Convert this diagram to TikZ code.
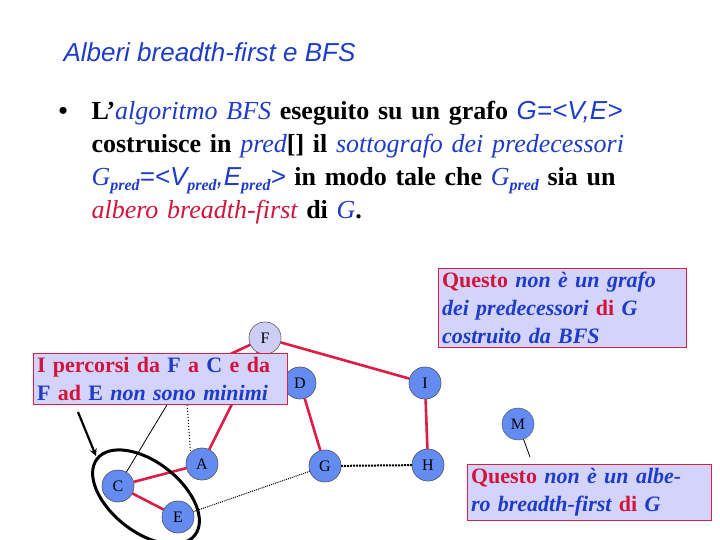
\documentclass[tikz,border=0pt]{standalone}
\usepackage{fontspec}
\setmainfont{Liberation Serif}
\setsansfont{Liberation Sans}
\begin{document}
\begin{tikzpicture}[x=1pt,y=-1pt,
  vx/.style={circle,draw=black!70,fill={rgb,255:red,100;green,140;blue,240},minimum size=32pt,inner sep=0pt,font=\fontsize{16}{16}\selectfont},
  redge/.style={draw={rgb,255:red,220;green,30;blue,70},line width=2.6pt},
  box/.style={draw={rgb,255:red,220;green,30;blue,70},fill={rgb,255:red,212;green,212;blue,250},line width=0.8pt,inner sep=4pt,align=left,font=\bfseries\fontsize{22}{28}\selectfont}]
\definecolor{tb}{RGB}{30,60,200}
\definecolor{tr}{RGB}{210,20,60}
\useasboundingbox (0,0) rectangle (720,540);
\fill[white] (0,0) rectangle (720,540);
\node[anchor=west,font=\sffamily\itshape\fontsize{26}{26}\selectfont,text=tb] (title) at (60,52) {Alberi breadth-first e BFS};
\node[anchor=north west,text width=660pt,align=left,font=\bfseries\fontsize{26}{33}\selectfont] (bul) at (55,98)
{\makebox[33pt][l]{\textbullet}L’\textcolor{tb}{\itshape\mdseries algoritmo BFS} eseguito su un grafo \textcolor{tb}{\sffamily\itshape\mdseries G=<V,E>}\\
\hspace*{33pt}costruisce in \textcolor{tb}{\itshape\mdseries pred}[] il \textcolor{tb}{\itshape\mdseries sottografo dei predecessori}\\
\hspace*{33pt}\textcolor{tb}{\itshape\mdseries G\raisebox{-5pt}{\fontsize{16}{16}\selectfont\bfseries pred}\sffamily=<V\raisebox{-5pt}{\fontsize{16}{16}\selectfont\rmfamily\bfseries pred},E\raisebox{-5pt}{\fontsize{16}{16}\selectfont\rmfamily\bfseries pred}>} in modo tale che \textcolor{tb}{\itshape\mdseries G\raisebox{-5pt}{\fontsize{16}{16}\selectfont\bfseries pred}} sia un\\
\hspace*{33pt}\textcolor{tr}{\itshape\mdseries albero breadth-first} di \textcolor{tb}{\itshape\mdseries G}.};
\coordinate (B) at (185,375);
\node[vx,fill={rgb,255:red,205;green,205;blue,245}] (F) at (265,338) {F};
\node[vx] (D) at (300,383) {D};
\node[vx] (I) at (425,383) {I};
\node[vx] (M) at (518,424) {M};
\node[vx] (A) at (202,464) {A};
\node[vx] (G) at (325,466) {G};
\node[vx] (H) at (428,465) {H};
\node[vx] (C) at (118,486) {C};
\node[vx] (E) at (178,517) {E};
\path[redge] (F) -- (I) (I) -- (H) (D) -- (G) (C) -- (A) (C) -- (E) (F) -- (A) (F) -- (B);
\draw[black,line width=1pt,dotted] (B) -- (A.north west);
\draw[black,line width=0.8pt] (B) -- (C);
\draw[black,line width=1pt,densely dotted] (G) -- (E);
\draw[black,line width=2pt,densely dotted] (G) -- (H);
\node[vx,fill={rgb,255:red,205;green,205;blue,245}] at (F) {F};
\node[vx] at (A) {A}; \node[vx] at (C) {C}; \node[vx] at (E) {E};
\node[vx] at (G) {G}; \node[vx] at (H) {H}; \node[vx] at (I) {I}; \node[vx] at (D) {D};
\draw[line width=3pt] (146,497) ellipse[x radius=62pt,y radius=35pt,rotate=-38];
\coordinate (ell) at (96,456);
\node[box,text width=246pt] (b1) at (160,379) {\textcolor{tr}{I percorsi da} \textcolor{tb}{F} \textcolor{tr}{a} \textcolor{tb}{C} \textcolor{tr}{e da}\\ \textcolor{tb}{F} \textcolor{tr}{ad} \textcolor{tb}{E \itshape non sono minimi}};
\draw[line width=2.2pt,-stealth] (78,412) -- (ell);
\node[box,text width=240pt] (b2) at (562,308) {\textcolor{tr}{Questo} \textcolor{tb}{\itshape non è un grafo}\\ \textcolor{tb}{\itshape dei predecessori} \textcolor{tr}{di} \textcolor{tb}{\itshape G}\\ \textcolor{tb}{\itshape costruito da BFS}};
\node[box,text width=236pt] (b3) at (589,492) {\textcolor{tr}{Questo} \textcolor{tb}{\itshape non è un albe-}\\ \textcolor{tb}{\itshape ro breadth-first} \textcolor{tr}{di} \textcolor{tb}{\itshape G}};
\draw[line width=0.8pt] (M) -- (530,457);
\end{tikzpicture}
\end{document}
